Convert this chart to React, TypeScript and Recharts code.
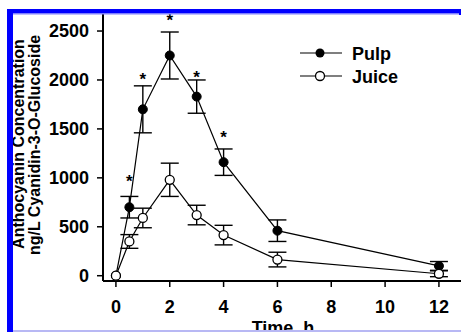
import { ComposedChart, Line, Scatter, XAxis, YAxis, ErrorBar } from "recharts"

// time points (h) and mean concentrations
const times = [0, 0.5, 1, 2, 3, 4, 6, 12]
const pulp = [0, 700, 1700, 2250, 1830, 1160, 460, 100]
const pulpErr = [0, 110, 240, 240, 170, 135, 110, 45]
const juice = [0, 350, 590, 980, 620, 415, 165, 20]
const juiceErr = [0, 70, 100, 170, 100, 100, 75, 30]
// asterisk heights (significance marks), null where no mark
const stars = [null, 1000, 2040, 2640, 2060, 1450, null, null]

const xTicks = [0, 2, 4, 6, 8, 10, 12]
const yTicks = [0, 500, 1000, 1500, 2000, 2500]

const data = times.map((t, i) => ({
  t,
  pulp: pulp[i],
  pulpErr: pulpErr[i],
  juice: juice[i],
  juiceErr: juiceErr[i],
}))
const starData = times
  .map((t, i) => ({ t, star: stars[i] }))
  .filter((d) => d.star !== null)

const FONT = "'Liberation Sans', Arial, sans-serif"
const tickStyle = { fontFamily: FONT, fontSize: 18, fontWeight: 700, fill: "#000" }

const StarMark = (props: any) => (
  <text x={props.cx} y={props.cy + 9} textAnchor="middle" fontFamily={FONT} fontWeight={700} fontSize={17} fill="#000">
    *
  </text>
)

export default function App() {
  return (
    <div style={{ position: "absolute", left: 0, top: 0, width: 461, height: 332, background: "#fff", overflow: "hidden" }}>
      <ComposedChart width={461} height={332} data={data} margin={{ top: 14, right: 0, bottom: 0, left: 0 }}>
        <XAxis
          dataKey="t"
          type="number"
          domain={[-0.48, 12.82]}
          ticks={xTicks}
          allowDataOverflow
          height={51}
          stroke="#000"
          strokeWidth={2}
          tickSize={6}
          tickMargin={13}
          tick={tickStyle}
          tickLine={{ stroke: "#000", strokeWidth: 1.5 }}
        />
        <YAxis
          type="number"
          domain={[-54, 2674]}
          ticks={yTicks}
          allowDataOverflow
          width={103}
          stroke="#000"
          strokeWidth={2}
          tickSize={6}
          tickMargin={8}
          tick={tickStyle}
          tickLine={{ stroke: "#000", strokeWidth: 1.5 }}
        />
        <Line
          dataKey="pulp"
          stroke="#000"
          strokeWidth={1.2}
          dot={{ r: 4.5, fill: "#000", stroke: "#000", strokeWidth: 1 }}
          isAnimationActive={false}
        >
          <ErrorBar dataKey="pulpErr" width={9} stroke="#000" strokeWidth={1.4} isAnimationActive={false} />
        </Line>
        <Line
          dataKey="juice"
          stroke="#000"
          strokeWidth={1.2}
          dot={{ r: 4.5, fill: "#fff", stroke: "#000", strokeWidth: 1.3 }}
          isAnimationActive={false}
        >
          <ErrorBar dataKey="juiceErr" width={9} stroke="#000" strokeWidth={1.4} isAnimationActive={false} />
        </Line>
        <Scatter data={starData} dataKey="star" shape={StarMark} isAnimationActive={false} />
      </ComposedChart>

      <svg width={461} height={332} style={{ position: "absolute", left: 0, top: 0, pointerEvents: "none" }}>
        {/* legend */}
        <g fontFamily={FONT} fontWeight={700} fontSize={18} fill="#000">
          <line x1={300} x2={342} y1={53} y2={53} stroke="#000" strokeWidth={1.2} />
          <circle cx={320} cy={53} r={4.5} fill="#000" />
          <text x={352} y={59.5}>Pulp</text>
          <line x1={300} x2={342} y1={76} y2={76} stroke="#000" strokeWidth={1.2} />
          <circle cx={320} cy={76} r={4.5} fill="#fff" stroke="#000" strokeWidth={1.3} />
          <text x={352} y={82.5}>Juice</text>
        </g>
        {/* axis titles */}
        <g fontFamily={FONT} fontWeight={700} fontSize={16} fill="#000" textAnchor="middle">
          <text transform="translate(24,144) rotate(-90)">Anthocyanin Concentration</text>
          <text transform="translate(40,145) rotate(-90)">ng/L Cyanidin-3-O-Glucoside</text>
          <text x={283} y={334} fontSize={18}>Time, h</text>
        </g>
        {/* blue frame */}
        <rect x={7} y={9} width={6} height={323} fill="#0000ff" />
        <rect x={7} y={9} width={454} height={4.5} fill="#0000ff" />
        <rect x={13} y={13.5} width={448} height={1} fill="#8080ff" />
        <rect x={459} y={9} width={2} height={6} fill="#0000ff" />
        <rect x={13} y={330} width={448} height={2} fill="#b8b8f4" />
      </svg>
    </div>
  )
}
